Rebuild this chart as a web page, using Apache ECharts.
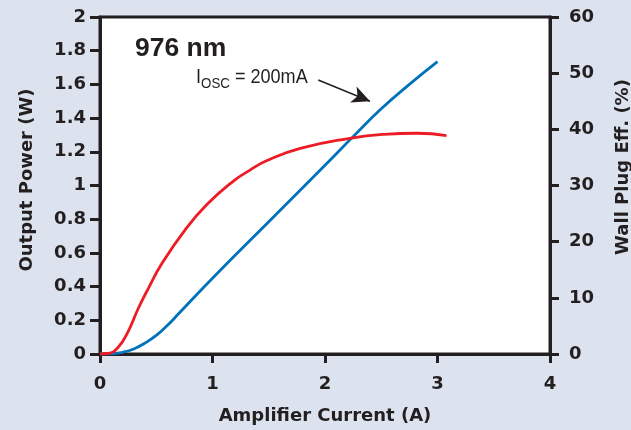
<!DOCTYPE html>
<html>
<head>
<meta charset="utf-8">
<script src="https://cdn.jsdelivr.net/npm/echarts@6/dist/echarts.min.js"></script>
<style>
html,body{margin:0;padding:0;background:#dce3ee;}
#c{width:631px;height:430px;}
</style>
</head>
<body>
<div id="c"></div>
<script>
// Amplifier current (A) vs output power (W) — blue
const powerData = [
  [0,0],[0.1,0.001],[0.2,0.01],[0.3,0.03],[0.4,0.065],[0.5,0.11],[0.6,0.17],
  [0.7,0.24],[1.0,0.45],[1.5,0.785],[2.0,1.12],[2.25,1.29],[2.5,1.455],
  [2.75,1.60],[3.0,1.735]
];
// Amplifier current (A) vs wall plug efficiency (%) — red
const effData = [
  [0,0],[0.07,0.09],[0.16,1.16],[0.25,4.0],[0.34,8.1],[0.43,11.7],[0.55,16.1],
  [0.76,22.2],[0.95,26.6],[1.18,30.7],[1.33,32.7],[1.48,34.4],[1.78,36.6],[2.22,38.4],
  [2.52,39.1],[2.82,39.3],[3.08,38.9]
];
const arrowFrom = [1.94, 1.626];
const arrowTo = [2.4, 1.50];

const ink = '#231f20';
const wide = 'DejaVu Sans, sans-serif';
const chart = echarts.init(document.getElementById('c'));
const tickFont = {fontFamily:wide, fontWeight:'bold', fontSize:18, color:ink};
const nameFont = {fontFamily:wide, fontWeight:'bold', fontSize:18, color:ink};
chart.setOption({
  animation:false,
  backgroundColor:'#dce3ee',
  grid:{left:100,right:81,top:17,bottom:76,outerBoundsMode:'none',containLabel:false,
    show:true,backgroundColor:'#ffffff',borderColor:ink,borderWidth:3},
  xAxis:{
    type:'value',min:0,max:4,interval:1,
    name:'Amplifier Current (A)',nameLocation:'middle',nameGap:53,nameTextStyle:nameFont,
    axisLine:{lineStyle:{color:ink,width:3}},
    axisTick:{show:true,length:9,lineStyle:{color:ink,width:3}},
    axisLabel:Object.assign({margin:21},tickFont),
    splitLine:{show:false}
  },
  yAxis:[{
    type:'value',min:0,max:2,interval:0.2,position:'left',
    axisLine:{show:true,lineStyle:{color:ink,width:3}},
    axisTick:{show:true,length:10,lineStyle:{color:ink,width:3}},
    axisLabel:Object.assign({margin:14},tickFont),
    splitLine:{show:false}
  },{
    type:'value',min:0,max:60,interval:10,position:'right',
    axisLine:{show:true,lineStyle:{color:ink,width:3}},
    axisTick:{show:true,length:9,lineStyle:{color:ink,width:3}},
    axisLabel:Object.assign({margin:19},tickFont),
    splitLine:{show:false}
  }],
  series:[{
    type:'line',name:'Output Power',yAxisIndex:0,data:powerData,smooth:0.5,symbol:'none',
    lineStyle:{color:'#0072bc',width:2.8},
    markLine:{silent:true,symbol:['none','arrow'],symbolSize:[13,18],
      lineStyle:{color:ink,width:1.5,type:'solid'},label:{show:false},
      data:[[{coord:arrowFrom},{coord:arrowTo}]]}
  },{
    type:'line',name:'Wall Plug Eff.',yAxisIndex:1,data:effData,smooth:0.5,symbol:'none',
    lineStyle:{color:'#ed1c24',width:2.8}
  }],
  graphic:[{
    type:'text',left:135,top:35,
    style:{text:'976 nm',fontFamily:'Liberation Sans, Arial, sans-serif',fontWeight:'bold',fontSize:26.5,fill:ink}
  },{
    type:'text',x:196,y:67,scaleX:0.86,
    style:{text:'{a|I}{b|OSC}{a| = 200mA}',
      rich:{
        a:{fontFamily:'Liberation Sans, Arial, sans-serif',fontSize:21,fill:ink,lineHeight:23,verticalAlign:'top'},
        b:{fontFamily:'Liberation Sans, Arial, sans-serif',fontSize:15.5,fill:ink,lineHeight:23,padding:[9,0,0,0],verticalAlign:'top'}
      }}
  },{
    type:'text',x:27,y:180,rotation:Math.PI/2,
    style:{text:'Output Power (W)',fontFamily:wide,fontWeight:'bold',fontSize:18,fill:ink,align:'center',verticalAlign:'middle'}
  },{
    type:'text',x:623,y:167,rotation:Math.PI/2,
    style:{text:'Wall Plug Eff. (%)',fontFamily:wide,fontWeight:'bold',fontSize:18,fill:ink,align:'center',verticalAlign:'middle'}
  }]
});
</script>
</body>
</html>
